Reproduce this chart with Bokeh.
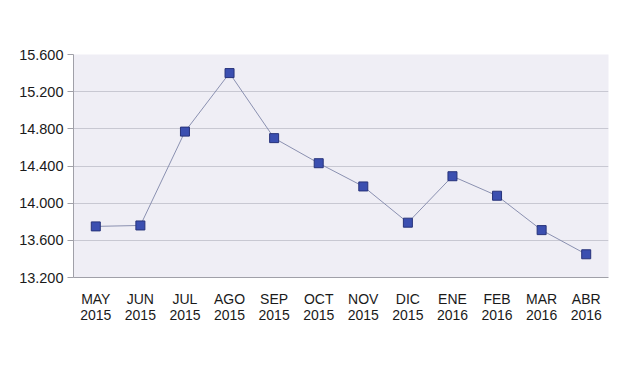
from bokeh.plotting import figure
from bokeh.models import FixedTicker, Range1d, ColumnDataSource
from bokeh.embed import file_html
from bokeh.resources import INLINE

months = ["MAY\n2015", "JUN\n2015", "JUL\n2015", "AGO\n2015", "SEP\n2015", "OCT\n2015",
          "NOV\n2015", "DIC\n2015", "ENE\n2016", "FEB\n2016", "MAR\n2016", "ABR\n2016"]
values = [13750, 13760, 14770, 15400, 14700, 14430, 14180, 13790, 14290, 14080, 13710, 13450]
y_ticks = [13200, 13600, 14000, 14400, 14800, 15200, 15600]
y_labels = ["13.200", "13.600", "14.000", "14.400", "14.800", "15.200", "15.600"]

src = ColumnDataSource(dict(x=months, y=values))

p = figure(width=612, height=352, x_range=months, y_range=Range1d(13200, 15600),
           output_backend="svg", toolbar_location=None,
           min_border_left=73, min_border_right=4, min_border_top=54, min_border_bottom=75)
p.outline_line_color = None
p.background_fill_color = "#efeef5"
p.border_fill_color = "white"

p.line("x", "y", source=src, line_color="#8a90b0", line_width=1)
p.scatter("x", "y", source=src, marker="square", size=9,
          fill_color="#3b4fb0", line_color="#27337a", line_width=1)

p.yaxis.ticker = FixedTicker(ticks=y_ticks)
p.yaxis.major_label_overrides = {t: l for t, l in zip(y_ticks, y_labels)}
p.yaxis.major_label_text_font = "Liberation Sans"
p.yaxis.major_label_text_font_size = "14.5px"
p.yaxis.major_label_text_color = "#1a1a1a"
p.yaxis.axis_line_color = "#a0a0a8"
p.yaxis.major_tick_line_color = "#a0a0a8"
p.yaxis.major_tick_out = 6
p.yaxis.major_tick_in = 0
p.yaxis.minor_tick_line_color = None
p.yaxis.major_label_standoff = 4

p.xaxis.major_label_text_font = "Liberation Sans"
p.xaxis.major_label_text_font_size = "14px"
p.xaxis.major_label_text_line_height = 1.0
p.xaxis.major_label_text_color = "#1a1a1a"
p.xaxis.axis_line_color = "#a0a0a8"
p.xaxis.major_tick_line_color = None
p.xaxis.major_label_standoff = 7

p.xgrid.grid_line_color = None
p.ygrid.grid_line_color = "#c8c8d2"
p.ygrid.grid_line_width = 1

open("out.html", "w").write(file_html(p, INLINE))
